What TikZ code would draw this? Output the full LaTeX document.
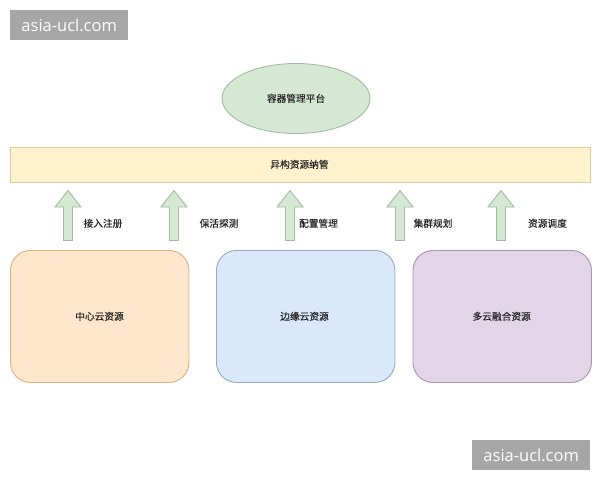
\documentclass[tikz,border=0pt]{standalone}
\usepackage{fontspec}
\usetikzlibrary{shapes.geometric}
\setmainfont{Liberation Sans}
\newfontfamily\cjk{Noto Sans CJK SC}[FakeBold=0.3]
\newfontfamily\wmark{Open Sans}
\definecolor{greenfill}{HTML}{D5E8D4}
\definecolor{greenline}{HTML}{A3B8A1}
\definecolor{yellowfill}{HTML}{FFF2CC}
\definecolor{yellowline}{HTML}{DDCB9A}
\definecolor{orangefill}{HTML}{FFE6CC}
\definecolor{orangeline}{HTML}{D9B183}
\definecolor{bluefill}{HTML}{DAE8FC}
\definecolor{blueline}{HTML}{98A9BE}
\definecolor{purplefill}{HTML}{E1D5E7}
\definecolor{purpleline}{HTML}{A596AC}
\definecolor{markgrey}{HTML}{A6A6A6}
\definecolor{inkc}{HTML}{262626}
\tikzset{
  lbl/.style={font=\cjk\fontsize{9.7}{11}\selectfont, text=inkc, inner sep=0pt},
  resbox/.style={rounded corners=20pt, line width=0.9pt, minimum width=178.5pt, minimum height=132pt, inner sep=0pt, anchor=north west},
  upblock/.style={draw=greenline, fill=greenfill, line width=0.9pt, line join=miter},
  markbox/.style={fill=markgrey, text=white, minimum width=118pt, minimum height=30pt, inner sep=0pt, anchor=north west, font=\wmark\fontsize{16.5}{18}\selectfont}
}
\newcommand{\upblockat}[1]{%
  \draw[upblock] (#1-4.5,240.5) -- (#1-4.5,207) -- (#1-13,207) -- (#1,190.5) -- (#1+13,207) -- (#1+4.5,207) -- (#1+4.5,240.5) -- cycle;}
\begin{document}
\begin{tikzpicture}[x=1pt,y=-1pt]
\useasboundingbox (0,0) rectangle (600,480);
\fill[white] (0,0) rectangle (600,480);
\node[markbox] (wma) at (10,10) {asia-ucl.com};
\node[markbox] (wmb) at (472,440) {asia-ucl.com};
\node[ellipse, draw=greenline, fill=greenfill, line width=0.9pt, minimum width=148pt, minimum height=70pt, inner sep=0pt] (platform) at (296,98.5) {};
\node[lbl] (platformtxt) at (296,98.3) {容器管理平台};
\node[draw=yellowline, fill=yellowfill, line width=0.9pt, minimum width=580.5pt, minimum height=35.5pt, inner sep=0pt, anchor=north west] (bar) at (9.5,146.5) {};
\node[lbl] (bartxt) at (299.5,164.3) {异构资源纳管};
\upblockat{68}
\upblockat{174}
\upblockat{290}
\upblockat{400}
\upblockat{501}
\node[lbl] (la) at (103,223.3) {接入注册};
\node[lbl] (lb) at (219,223.3) {保活探测};
\node[lbl] (lc) at (318.5,223.3) {配置管理};
\node[lbl] (ld) at (433,223.3) {集群规划};
\node[lbl] (le) at (547.5,223.3) {资源调度};
\node[resbox, draw=orangeline, fill=orangefill] (center) at (10,250) {};
\node[resbox, draw=blueline, fill=bluefill] (edge) at (216,250) {};
\node[resbox, draw=purpleline, fill=purplefill] (multi) at (412.5,250) {};
\node[lbl] (centertxt) at (99.5,316.3) {中心云资源};
\node[lbl] (edgetxt) at (304.5,316.3) {边缘云资源};
\node[lbl] (multitxt) at (501.7,316.3) {多云融合资源};
\end{tikzpicture}
\end{document}
